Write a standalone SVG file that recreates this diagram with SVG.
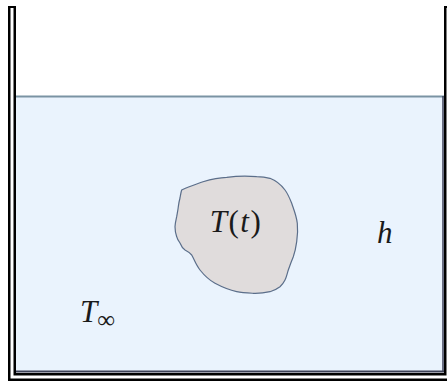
<svg xmlns="http://www.w3.org/2000/svg" width="447" height="383" viewBox="0 0 447 383">
<style>
.lbl{font-family:"Liberation Serif","DejaVu Serif",serif;font-size:31px;fill:#1a1a1a;font-style:italic}
.up{font-style:normal}
</style>
<rect width="447" height="383" fill="#ffffff"/>
<g id="water">
<rect x="16" y="96" width="428" height="276" fill="#eaf3fd"/>
<line x1="16" y1="96.5" x2="444" y2="96.5" stroke="#7a93a3" stroke-width="2"/>
<line x1="16" y1="371.5" x2="444" y2="371.5" stroke="#3c4157" stroke-width="2"/>
<line x1="443" y1="96" x2="443" y2="372" stroke="#3c4157" stroke-width="1.5"/>
</g>
<g id="container">
<path d="M12 6 V377 H448 V6" fill="none" stroke="#000" stroke-width="8" stroke-linejoin="miter"/>
<path d="M12 8 V377 H448 V8" fill="none" stroke="#fff" stroke-width="3" stroke-linejoin="miter"/>
</g>
<g id="body">
<path d="M181.7 190 C190 186 197 184 203 181.7 C212 179 220 177.5 226.7 177.3 C236 176.2 246 175.8 256.7 176.7 C262 177 266 177.5 270 178.3 C277 181 282 186 285 190 C288 194 290 199 291.7 203.3 C294 210 296.5 216 297.3 223.3 C298 230 297.5 236 296.7 241.7 C296 247 295 252 293.3 256.7 C291.5 261 290 265 288.3 270 C287 274 286.5 277 285 280 C283.5 283 282 285 280 286.7 C277 289 274 290.5 270 291.7 C264 293 259 293.5 253.3 293.3 C247 293 242 292.8 236.7 291.7 C229 290 222 287 215 283.3 C209 280 204 275 200 270 C196 265 194 259 191.7 255 C189 252 187 251 185 250 C182 248 181 245.5 180 243 C178.5 241 177.2 239 176.7 236.7 C175.5 233 175 230 175 226.7 C175.2 223 176 220 176.7 216.7 C177.3 213 178 210 178.3 206.7 C178.7 203.5 179.3 200.5 180 198 C180.5 195 181 192 181.7 190 Z" fill="#e0dcdc" stroke="#5b6e8a" stroke-width="1.2"/>
<text class="lbl" x="236" y="232" text-anchor="middle" letter-spacing="1.5">T<tspan class="up">(</tspan>t<tspan class="up">)</tspan></text>
</g>
<g id="labels">
<text class="lbl" x="377" y="243">h</text>
<text class="lbl" x="80" y="321.5">T<tspan class="up" font-size="25" dx="0" dy="6">∞</tspan></text>
</g>
</svg>
